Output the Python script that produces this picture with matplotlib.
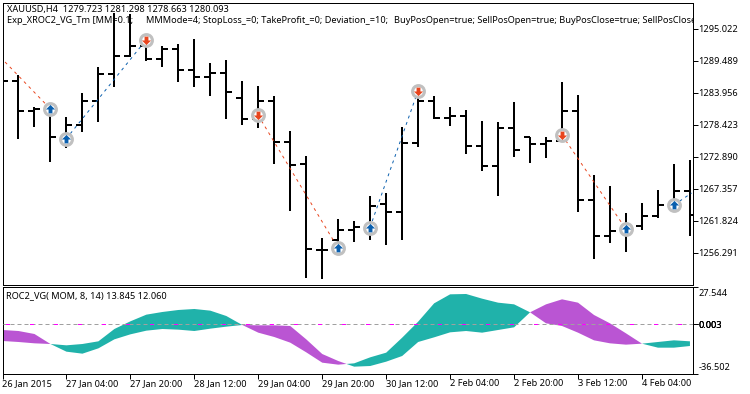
import matplotlib
matplotlib.use('Agg')
import matplotlib.pyplot as plt
import numpy as np
from matplotlib.path import Path
from matplotlib.transforms import ScaledTranslation

plt.rcParams['font.family'] = ['Noto Sans', 'DejaVu Sans']

# H4 bars
bar_open = [1285.94, 1285.94, 1280.81, 1281.15, 1276.21, 1278.39, 1282.54, 1287.21, 1290.32, 1292.05, 1289.80,
            1291.53, 1287.90, 1286.69, 1287.38, 1283.06, 1279.32, 1282.54, 1275.45, 1271.64, 1256.77, 1258.50,
            1260.23, 1260.75, 1264.73, 1263.35, 1275.28, 1282.43, 1279.60, 1279.94, 1274.76, 1271.30, 1277.77,
            1276.21, 1275.10, 1275.62, 1280.81, 1265.42, 1259.20, 1260.06, 1260.92, 1262.60, 1264.56, 1266.98]
bar_high = [1285.94, 1287.03, 1281.50, 1281.28, 1279.77, 1283.82, 1288.31, 1297.70, 1297.53, 1293.73, 1292.05,
            1292.39, 1293.26, 1289.00, 1289.52, 1285.94, 1285.08, 1283.40, 1277.30, 1272.98, 1258.80, 1262.08,
            1261.74, 1266.06, 1266.58, 1278.04, 1283.35, 1283.30, 1281.40, 1280.88, 1278.98, 1278.80, 1282.26,
            1276.21, 1276.21, 1285.77, 1283.47, 1269.64, 1267.74, 1263.12, 1264.85, 1267.05, 1271.59, 1272.28]
bar_low = [1285.94, 1275.86, 1278.04, 1271.99, 1274.36, 1277.18, 1278.91, 1284.85, 1290.04, 1289.45, 1288.42,
           1285.82, 1284.96, 1283.40, 1279.43, 1278.39, 1277.82, 1271.64, 1263.52, 1251.93, 1251.71, 1256.72,
           1258.16, 1258.50, 1257.64, 1258.50, 1274.53, 1279.32, 1278.22, 1273.37, 1270.43, 1266.11, 1272.85,
           1271.82, 1272.68, 1275.40, 1263.24, 1255.22, 1257.98, 1256.43, 1260.23, 1262.31, 1264.16, 1259.20]
bar_close = [1285.94, 1280.81, 1281.15, 1276.21, 1278.39, 1282.54, 1287.21, 1290.32, 1292.05, 1289.80, 1291.53,
             1287.90, 1286.69, 1287.38, 1284.09, 1279.32, 1282.54, 1275.45, 1271.42, 1256.95, 1256.77, 1260.23,
             1260.75, 1264.38, 1263.35, 1275.28, 1282.43, 1279.60, 1279.94, 1274.76, 1271.30, 1277.77, 1274.07,
             1275.10, 1275.62, 1280.81, 1265.42, 1259.20, 1260.06, 1260.92, 1262.60, 1264.56, 1266.98, 1262.77]

# trades
buy_bars = [3, 4, 21, 23, 39, 42]
buy_prices = [1281.19, 1275.92, 1257.07, 1260.61, 1260.35, 1264.50]
sell_bars = [9, 16, 26, 35]
sell_prices = [1293.03, 1280.07, 1284.22, 1276.61]
blue_lines = [([4, 9], [1275.92, 1293.03]), ([23, 26], [1260.61, 1284.22]), ([42, 43.1], [1264.50, 1266.58])]
red_lines = [([0.19, 3], [1289.23, 1281.19]), ([16, 21], [1280.07, 1257.07]), ([35, 39], [1276.61, 1260.35])]

# ROC2_VG cloud
roc_fast = [-12.34, -13.08, -14.07, -14.57, -15.56, -14.57, -12.58, -3.42, 2.28, 7.24, 9.22,
            10.71, 11.45, 10.21, 6.24, -0.44, -6.15, -9.37, -13.58, -20.77, -28.45, -29.93,
            -28.94, -24.48, -21.02, -9.87, 2.03, 15.66, 22.35, 22.60, 19.13, 16.15, 14.91,
            8.97, 0.80, -1.19, -6.15, -11.84, -14.07, -15.06, -14.32, -13.08, -11.84, -12.58]
roc_slow = [-4.16, -4.91, -7.14, -14.57, -20.27, -21.76, -17.79, -11.11, -7.39, -4.66, -3.42,
            -3.91, -4.91, -3.17, -1.68, -0.44, -0.69, -0.69, -1.19, -11.11, -22.01, -27.21,
            -31.42, -30.93, -27.70, -23.49, -13.08, -9.62, -5.90, -4.91, -6.15, -4.16, -2.18,
            8.97, 14.91, 18.63, 16.15, 6.99, 0.80, -6.64, -14.32, -17.30, -17.30, -16.06]

price_ticks = [1295.022, 1289.489, 1283.956, 1278.423, 1272.890, 1267.357, 1261.824, 1256.291]
date_labels = ['26 Jan 2015', '27 Jan 04:00', '27 Jan 20:00', '28 Jan 12:00', '29 Jan 04:00', '29 Jan 20:00',
               '30 Jan 12:00', '2 Feb 04:00', '2 Feb 20:00', '3 Feb 12:00', '4 Feb 04:00']
roc_ticks = [27.544, 0.0, 0.0, 0.0, -36.502]
roc_labels = ['27.544', '0.000', '0.008', '0.003', '-36.502']

header1 = 'XAUUSD,H4  1279.723 1281.298 1278.663 1280.093'
header2_parts = ['Exp_XROC2_VG_Tm [MM=0.1;',
                 'MMMode=4; StopLoss_=0; TakeProfit_=0; Deviation_=10;',
                 'BuyPosOpen=true; SellPosOpen=true; BuyPosClose=true; SellPosClose=true]']
header2_px = [7, 146, 394]
header3 = 'ROC2_VG( MOM, 8, 14) 13.845 12.060'

W, H = 750, 394
FS = 6.6
TEAL = '#20b2aa'
ORCHID = '#ba55d3'
BLUE = '#0a5fae'
RED = '#e8451e'

fig = plt.figure(figsize=(7.5, 3.94), dpi=100, facecolor='white')


def panel(left, top, right, bottom):
    return fig.add_axes([left / W, 1 - bottom / H, (right - left) / W, (bottom - top) / H])


ax = panel(2.5, 2.5, 692.5, 284.5)
ax2 = panel(2.5, 286.5, 692.5, 373.5)

xs = np.arange(len(bar_open))
for a in (ax, ax2):
    a.set_xlim(0.03, 43.16)
    a.yaxis.tick_right()
    for s in a.spines.values():
        s.set_linewidth(0.72)
    a.tick_params(axis='y', length=3.6, width=0.72, pad=0.6, labelsize=FS)

# price panel
ax.set_ylim(1250.76, 1299.52)
ax.vlines(xs, bar_low, bar_high, color='black', lw=1.44, antialiased=False, zorder=2)
ax.hlines(bar_open, xs - 0.375, xs, color='black', lw=1.44, antialiased=False, zorder=2)
ax.hlines(bar_close, xs, xs + 0.375, color='black', lw=1.44, antialiased=False, zorder=2)

for lx, ly in blue_lines:
    ax.plot(lx, ly, color=BLUE, lw=0.7, ls=(0, (3, 4)), zorder=3)
for lx, ly in red_lines:
    ax.plot(lx, ly, color=RED, lw=0.7, ls=(0, (3, 4)), zorder=3)

up_arrow = Path([(0, 1), (1, 0), (0.42, 0), (0.42, -0.85), (-0.42, -0.85), (-0.42, 0), (-1, 0), (0, 1)], closed=True)
down_arrow = Path([(0, -1), (1, 0), (0.42, 0), (0.42, 0.85), (-0.42, 0.85), (-0.42, 0), (-1, 0), (0, -1)], closed=True)
for bars, prices, arrow, col in [(buy_bars, buy_prices, up_arrow, BLUE), (sell_bars, sell_prices, down_arrow, RED)]:
    ax.plot(bars, prices, ls='none', marker='o', ms=8.5, mfc='white', mec='#c0c0c0', mew=2.2, zorder=4)
    ax.plot(bars, prices, ls='none', marker=arrow, ms=6.6, mfc=col, mec='none', zorder=5)

ax.set_yticks(price_ticks)
ax.set_yticklabels(['%.3f' % p for p in price_ticks])
ax.set_xticks([])
ax.text(4.5 / 690, 1 - 7 / 282, header1, transform=ax.transAxes, fontsize=FS, va='center', ha='left', zorder=6)
for part, px in zip(header2_parts, header2_px):
    ax.text((px - 2.5) / 690, 1 - 18.4 / 282, part, transform=ax.transAxes, fontsize=FS, va='center', ha='left',
            clip_on=True, zorder=6)

# indicator panel
fast = np.array(roc_fast)
slow = np.array(roc_slow)
ax2.set_ylim(-36.502, 28.17)
ax2.fill_between(xs, fast, slow, where=fast >= slow, interpolate=True, color=TEAL, lw=0, zorder=2)
ax2.fill_between(xs, fast, slow, where=fast <= slow, interpolate=True, color=ORCHID, lw=0, zorder=2)
ax2.axhline(0, color='#a0a0a0', lw=0.72, ls=(0, (4, 3)), zorder=3)
ax2.axhline(0, color='#ff00ff', lw=0.72, ls=(21.5, (4, 20)), zorder=4)

ax2.set_yticks(roc_ticks)
ax2.set_yticklabels(roc_labels)
ylabels = ax2.get_yticklabels()
ylabels[0].set_va('top')
ylabels[0].set_transform(ylabels[0].get_transform() + ScaledTranslation(0, -1.5 / 100, fig.dpi_scale_trans))
ylabels[-1].set_va('bottom')
ylabels[-1].set_transform(ylabels[-1].get_transform() + ScaledTranslation(0, 1 / 100, fig.dpi_scale_trans))

ax2.set_xticks(xs[::4])
ax2.set_xticklabels(date_labels, ha='left')
ax2.tick_params(axis='x', length=3.6, width=0.72, pad=0.5, labelsize=FS)
ax2.text(3.5 / 690, 1 - 9.5 / 87, header3, transform=ax2.transAxes, fontsize=FS, va='center', ha='left', zorder=6)

fig.savefig('out.png', dpi=100, facecolor='white')
